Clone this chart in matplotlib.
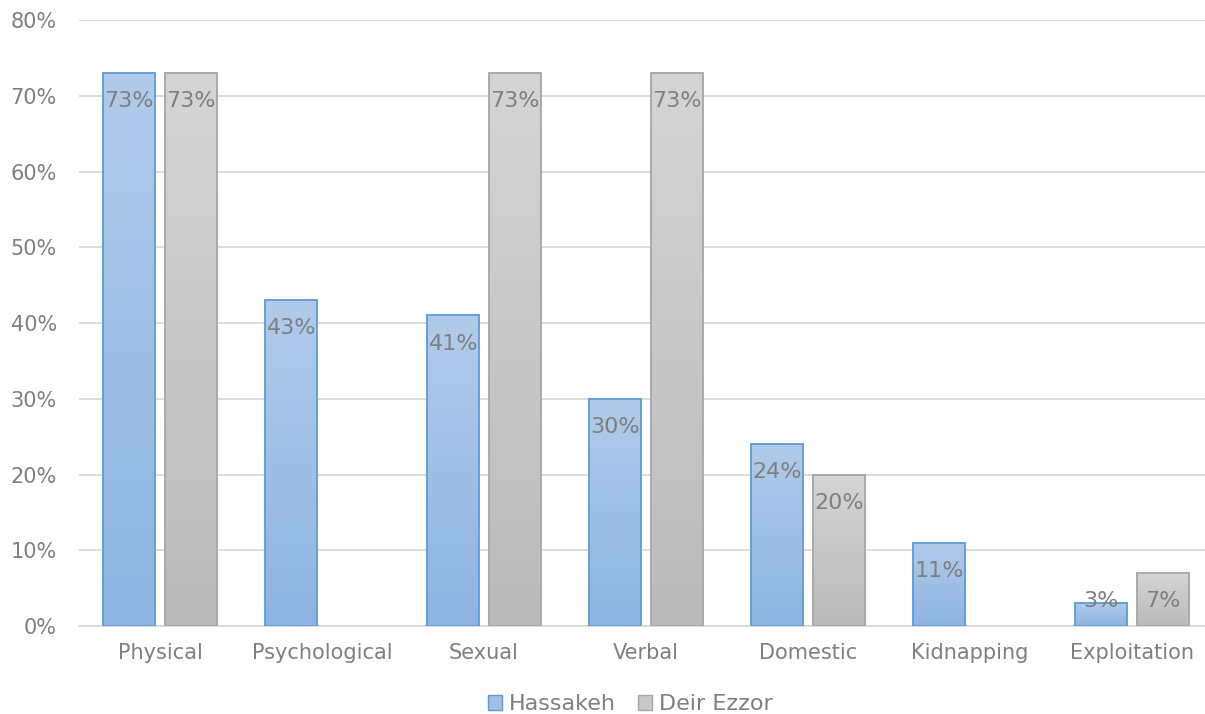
import numpy as np
import matplotlib
matplotlib.use("Agg")
import matplotlib.pyplot as plt
from matplotlib.colors import LinearSegmentedColormap
from matplotlib.patches import Patch

categories = ["Physical", "Psychological", "Sexual", "Verbal", "Domestic", "Kidnapping", "Exploitation"]
hassakeh = [73, 43, 41, 30, 24, 11, 3]
deir_ezzor = [73, None, 73, 73, 20, None, 7]

plt.rcParams["font.family"] = ["DejaVu Sans"]
TEXT = "#7f7f7f"

fig = plt.figure(figsize=(12.05, 7.14), dpi=100)
ax = fig.add_axes([0.0656, 0.1232, 0.941, 0.8488])

x = np.arange(len(categories))
width = 0.32
off = 0.19

blue_cmap = LinearSegmentedColormap.from_list("b", ["#8db4e2", "#b1cbea"])
gray_cmap = LinearSegmentedColormap.from_list("g", ["#bababa", "#d5d5d5"])
grad = np.linspace(0, 1, 256).reshape(-1, 1)


def draw_series(xs, vals, cmap, edge):
    xv = [xi for xi, v in zip(xs, vals) if v is not None]
    hv = [v for v in vals if v is not None]
    bars = ax.bar(xv, hv, width, facecolor="none", edgecolor=edge, linewidth=1.3, zorder=3)
    for b, v in zip(bars, hv):
        x0 = b.get_x()
        im = ax.imshow(grad, extent=[x0, x0 + b.get_width(), 0, v], origin="lower",
                       aspect="auto", cmap=cmap, zorder=2)
        im.set_clip_path(b)
        # small bars: excel keeps the label inside the plot area
        ax.text(b.get_x() + b.get_width() / 2, max(v - 2.4, 4.6), f"{v}%", ha="center", va="top",
                fontsize=16, color=TEXT, zorder=4)


draw_series(x - off, hassakeh, blue_cmap, "#5b9bd5")
draw_series(x + off, deir_ezzor, gray_cmap, "#a5a5a5")

ax.set_xlim(-0.5, len(categories) - 0.5)
ax.set_ylim(0, 80)
ax.set_yticks(range(0, 81, 10))
ax.set_yticklabels([f"{v}%" for v in range(0, 81, 10)], fontsize=15, color=TEXT)
ax.set_xticks(x)
ax.set_xticklabels(categories, fontsize=15, color=TEXT)
ax.tick_params(length=0, pad=12)
ax.tick_params(axis="y", pad=16)
ax.grid(axis="y", color="#d9d9d9", linewidth=1.3, zorder=0)
ax.set_axisbelow(True)
for s in ["top", "right", "left"]:
    ax.spines[s].set_visible(False)
ax.spines["bottom"].set_color("#d9d9d9")
ax.spines["bottom"].set_linewidth(1.3)

handles = [Patch(facecolor="#a0c0e6", edgecolor="#5b9bd5", label="Hassakeh"),
           Patch(facecolor="#c8c8c8", edgecolor="#a5a5a5", label="Deir Ezzor")]
fig.legend(handles=handles, loc="center", bbox_to_anchor=(0.523, 0.014), ncol=2, frameon=False,
           fontsize=16, labelcolor=TEXT, handlelength=0.65, handleheight=0.65,
           handletextpad=0.3, columnspacing=1.0)

fig.savefig("out.png", dpi=100)
